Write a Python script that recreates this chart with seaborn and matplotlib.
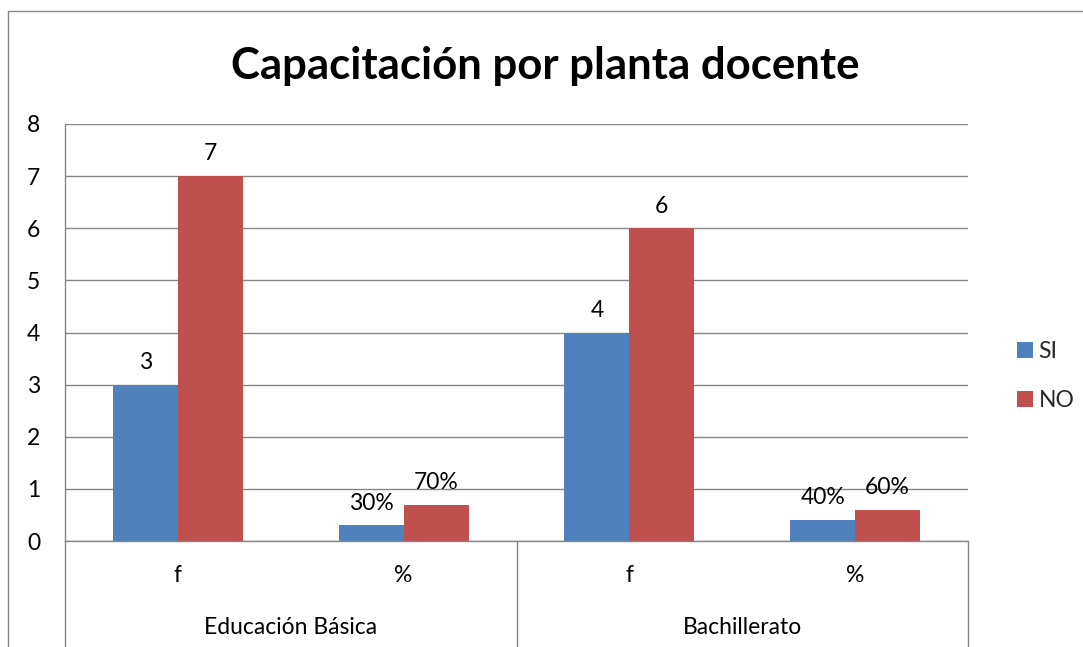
import matplotlib
matplotlib.use("Agg")
import matplotlib.pyplot as plt
import matplotlib.transforms as mtransforms
from matplotlib.lines import Line2D
from matplotlib.patches import Patch
import seaborn as sns
import pandas as pd

# ---- data ----
groups = ["Educación Básica", "Educación Básica", "Bachillerato", "Bachillerato"]
subcats = ["f", "%", "f", "%"]
si_values = [3, 0.3, 4, 0.4]
no_values = [7, 0.7, 6, 0.6]
si_labels = ["3", "30%", "4", "40%"]
no_labels = ["7", "70%", "6", "60%"]
series = ["SI", "NO"]
colors = ["#4F81BD", "#C0504D"]

keys = [f"{g}|{s}|{i}" for i, (g, s) in enumerate(zip(groups, subcats))]
df = pd.DataFrame({
    "key": keys * 2,
    "serie": ["SI"] * 4 + ["NO"] * 4,
    "valor": si_values + no_values,
    "etiqueta": si_labels + no_labels,
})

sns.set_theme(style="white")
plt.rcParams["font.family"] = ["Lato", "DejaVu Sans"]

FS = 16.5
W, H = 1083, 647
fig = plt.figure(figsize=(W / 100, H / 100), dpi=100)
# plot area: x 65..968, y 124..541 (pixels from top)
ax = fig.add_axes([65 / W, 1 - 541 / H, (968 - 65) / W, (541 - 124) / H])

sns.barplot(data=df, x="key", y="valor", hue="serie", order=keys, hue_order=series,
            palette=colors, width=0.576, gap=0, saturation=1, ax=ax, legend=False,
            edgecolor="none", linewidth=0)

ax.set_xlim(-0.5, 3.5)
ax.set_ylim(0, 8)
ax.set_yticks(range(0, 9))
ax.set_yticklabels([str(v) for v in range(0, 9)], fontsize=FS, color="black")
ax.yaxis.grid(True, color="#868686", linewidth=1)
ax.set_axisbelow(True)
for s in ["top", "right"]:
    ax.spines[s].set_visible(False)
for s in ["left", "bottom"]:
    ax.spines[s].set_color("#868686")
    ax.spines[s].set_linewidth(1)
ax.tick_params(axis="y", length=0, pad=18)
ax.set_xticks(range(4))
ax.set_xticklabels(subcats, fontsize=FS, color="black")
ax.tick_params(axis="x", length=0, pad=17)
ax.set_xlabel("")
ax.set_ylabel("")

# data labels
for cont, labs in zip(ax.containers, [si_labels, no_labels]):
    for bar, lab in zip(cont, labs):
        ax.annotate(lab, (bar.get_x() + bar.get_width() / 2, bar.get_height()),
                    xytext=(0, 16), textcoords="offset points",
                    ha="center", va="center", fontsize=FS, color="black")

# multi-level category separators and group labels
trans = mtransforms.blended_transform_factory(ax.transData, ax.transAxes)
bottom = -(H - 541) / (541 - 124)
for xb in [-0.5, 1.5, 3.5]:
    ax.add_line(Line2D([xb, xb], [0, bottom], transform=trans, color="#868686",
                       linewidth=1, clip_on=False))
for xc, g in [(0.5, "Educación Básica"), (2.5, "Bachillerato")]:
    ax.text(xc, -(627 - 541) / (541 - 124), g, transform=trans, ha="center",
            va="center", fontsize=FS, color="black")

# title
fig.text(545 / W, 1 - 66 / H, "Capacitación por planta docente", ha="center",
         va="center", fontsize=31.5, fontweight="bold", color="black")

# legend
handles = [Patch(facecolor=c, edgecolor="none") for c in colors]
fig.legend(handles, series, loc="center left", bbox_to_anchor=(996 / W, 1 - 376 / H),
           frameon=False, fontsize=FS, handlelength=0.7, handleheight=0.7,
           handletextpad=0.25, labelspacing=1.2)

# outer chart border (left and top visible)
fig.add_artist(Line2D([8 / W, 8 / W], [0, 1 - 11 / H], transform=fig.transFigure,
                      color="#868686", linewidth=1))
fig.add_artist(Line2D([8 / W, 1], [1 - 11 / H, 1 - 11 / H], transform=fig.transFigure,
                      color="#868686", linewidth=1))

fig.savefig("out.png", dpi=100, facecolor="white")
